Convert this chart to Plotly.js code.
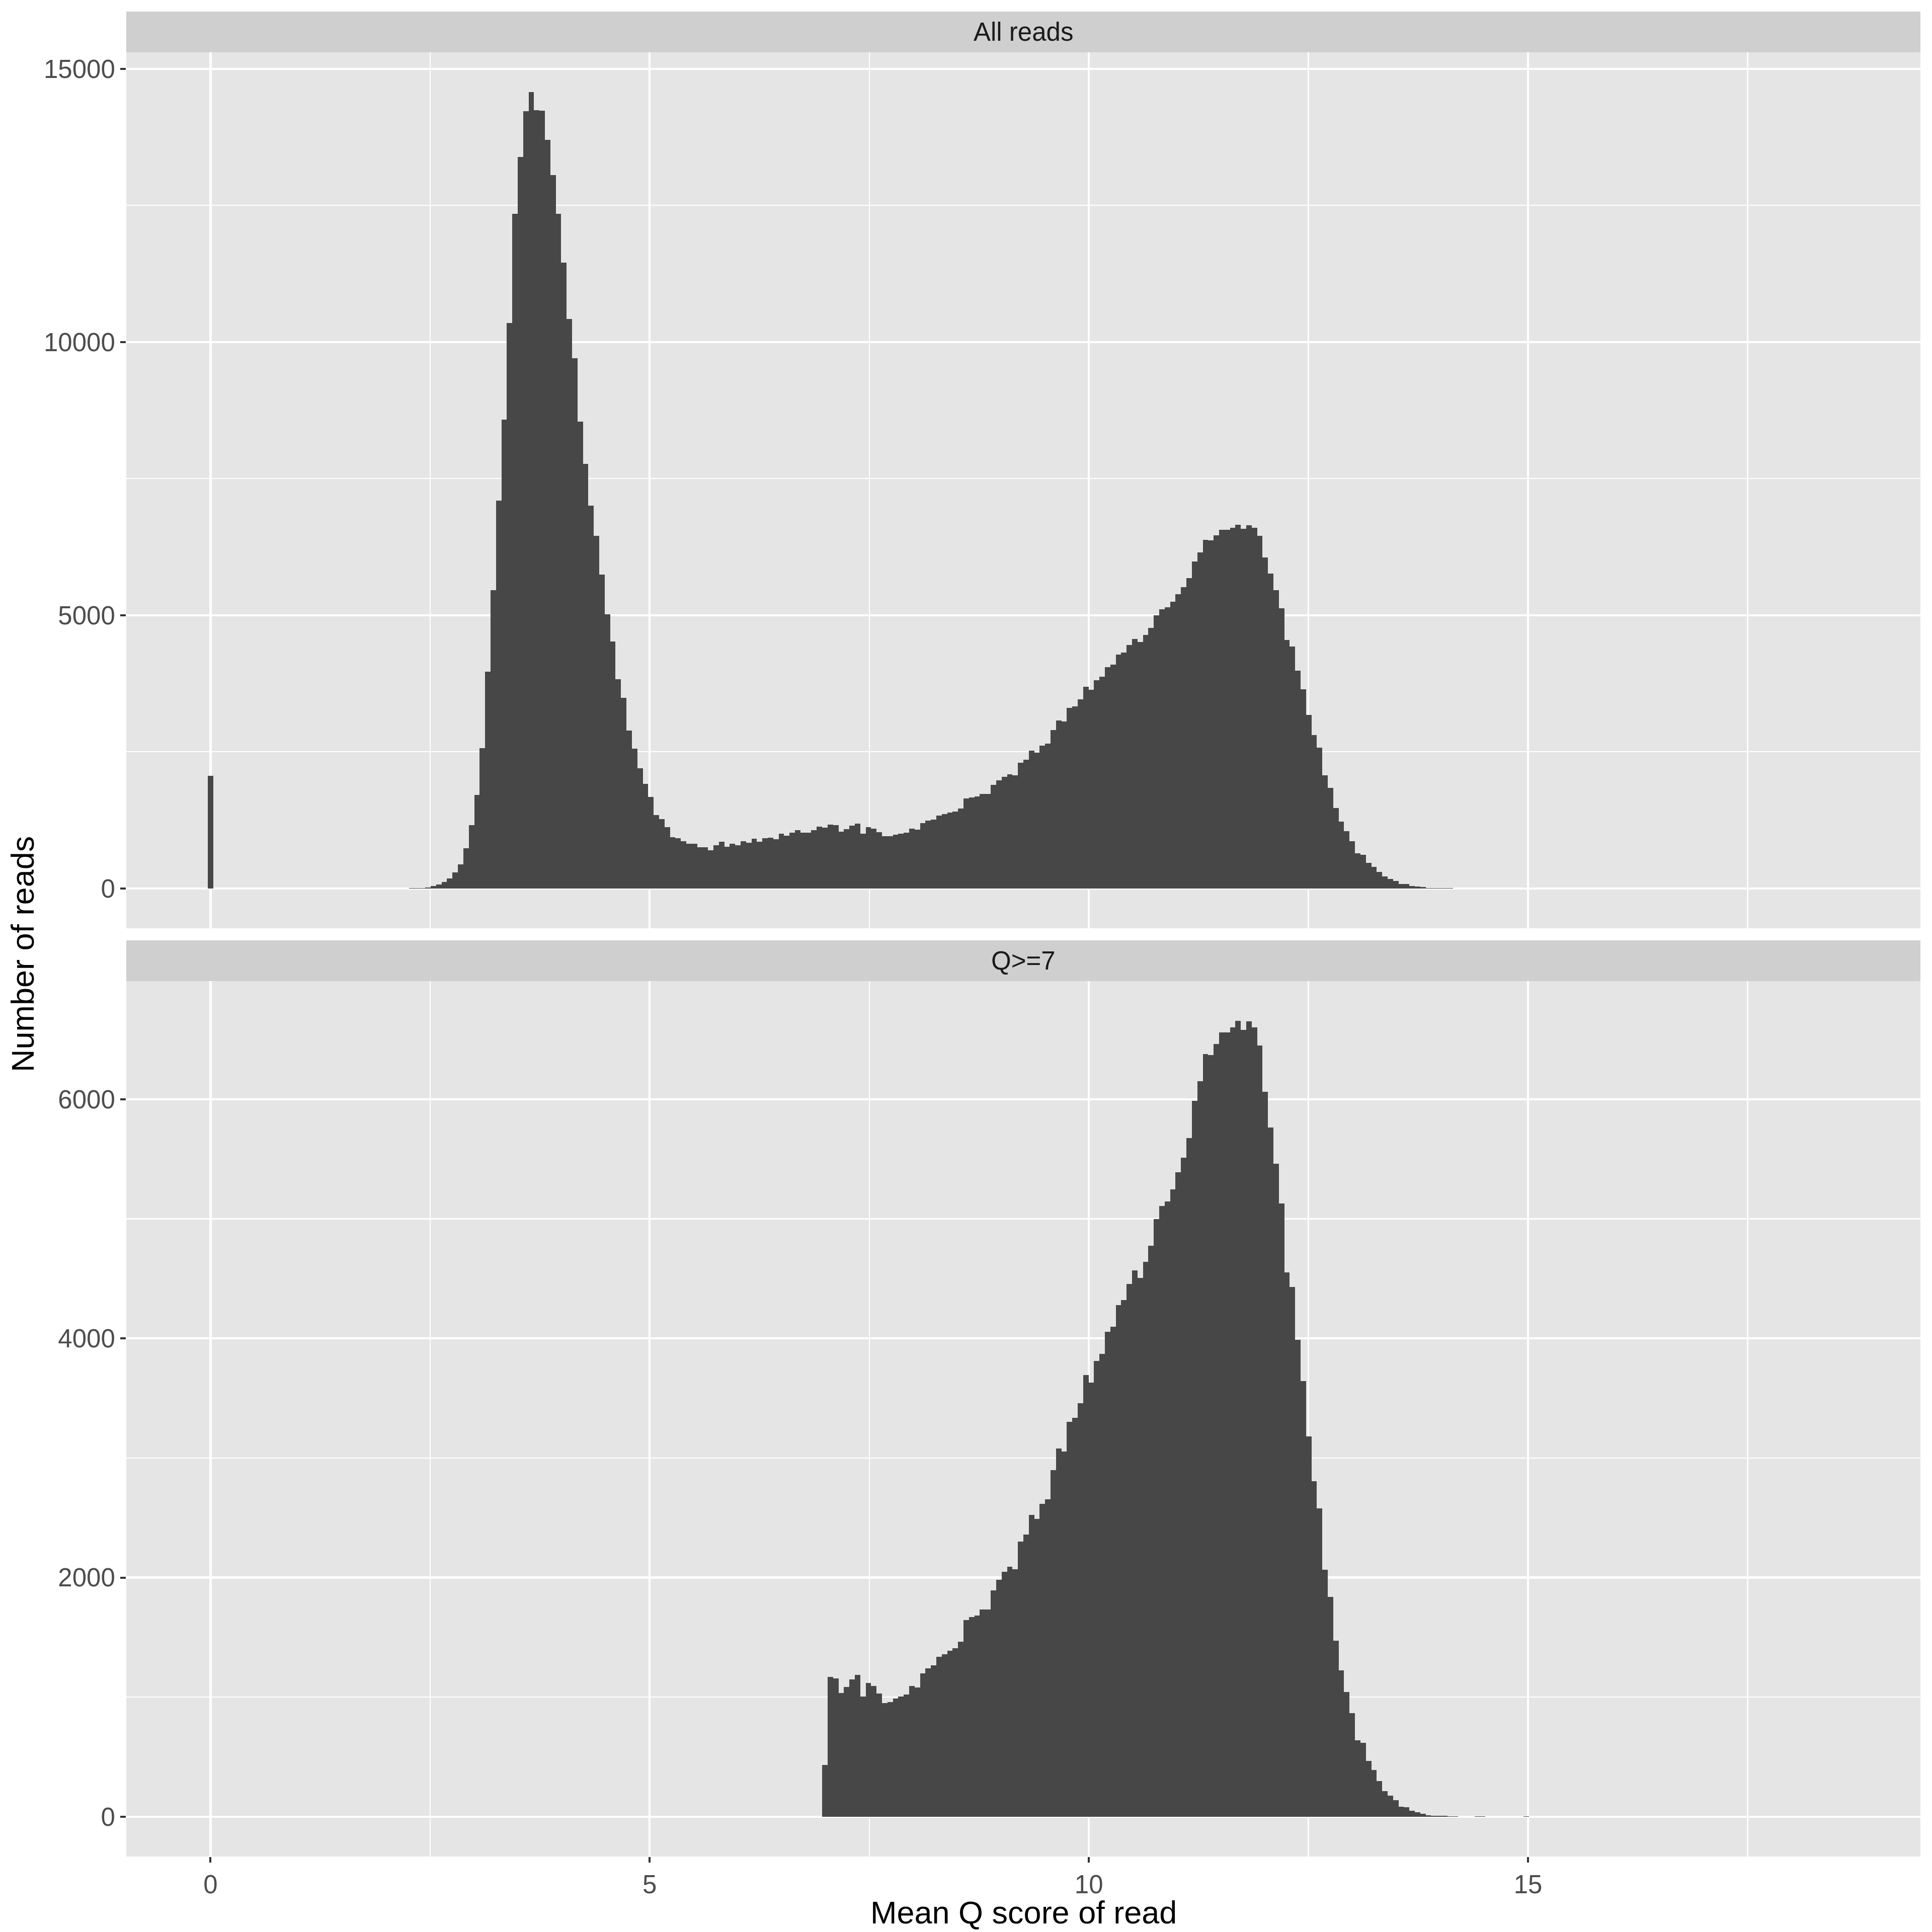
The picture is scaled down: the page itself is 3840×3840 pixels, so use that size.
<!DOCTYPE html>
<html>
<head>
<meta charset="utf-8">
<script src="https://cdn.plot.ly/plotly-3.0.1.min.js"></script>
<style>html,body{margin:0;padding:0;background:#fff;}#chart{width:3840px;height:3840px;}</style>
</head>
<body>
<div id="chart"></div>
<script>
// Histogram bin width (bins centred on k * binWidth, k = 0..299)
const binWidth = 0.0619;

// Counts per bin, all reads (k = 0..299)
const countsAll = [
  2060,0,0,0,0,0,0,0,0,0,
  0,0,0,0,0,0,0,0,0,0,
  0,0,0,0,0,0,0,0,0,0,
  0,0,0,0,0,2,3,4,9,12,
  20,40,75,115,180,290,440,735,1155,1710,
  2565,3970,5455,7100,8585,10350,12345,13385,14225,14575,
  14245,14235,13700,13060,12345,11450,10420,9700,8540,7775,
  7010,6450,5745,5020,4520,3825,3490,2890,2555,2195,
  1910,1670,1345,1270,1125,935,915,860,820,820,
  750,755,700,792,857,764,820,792,866,838,
  912,857,921,930,903,1004,967,1022,1068,1022,
  1022,1068,1133,1114,1167,1158,1036,1083,1150,1185,
  1004,1120,1095,1029,952,957,987,1004,1023,1093,
  1079,1198,1239,1264,1336,1358,1386,1408,1463,1643,
  1668,1682,1732,1732,1892,1980,2047,2091,2069,2301,
  2359,2523,2489,2617,2655,2898,3078,3056,3302,3334,
  3457,3692,3632,3811,3871,4054,4097,4280,4320,4455,
  4567,4507,4642,4773,4996,5107,5147,5246,5390,5513,
  5676,5986,6150,6380,6370,6460,6560,6560,6600,6655,
  6580,6650,6600,6450,6062,5763,5461,5127,4551,4431,
  3986,3644,3179,2805,2579,2066,1840,1474,1223,1044,
  865,640,616,465,390,298,215,175,139,84,
  78,48,38,25,10,8,8,6,4,2,
  1,1,1,2,2,1,0,0,0,0,
  0,1,2,0,0,0,0,1,0,0,
  0,0,0,0,1,0,0,0,0,0,
  0,0,0,0,0,0,0,0,0,0,
  1,1,0,0,0,0,0,0,0,0,
  0,0,0,0,0,0,0,0,0,1,
  0,0,0,0,0,0,0,0,0,1
];

// Q>=7 panel: first (partial) bin and where it starts
const q7FirstBinIndex = 113;
const q7FirstBinCount = 431;

const facetLabels = ["All reads", "Q>=7"];
const xTicks = [0, 5, 10, 15];
const topYTicks = [0, 5000, 10000, 15000];
const bottomYTicks = [0, 2000, 4000, 6000];

(function () {
  const xAll = countsAll.map((_, k) => k * binWidth);
  const xQ7 = xAll.slice(q7FirstBinIndex);
  const yQ7 = [q7FirstBinCount].concat(countsAll.slice(q7FirstBinIndex + 1));

  const W = 3840, H = 3840;
  const px = v => v / W;
  const py = v => 1 - v / H;

  const panelL = 251, panelR = 3817;
  const topP = {strip: [23, 104], panel: [104, 1845]};
  const botP = {strip: [1869, 1950], panel: [1950, 3690]};

  const barColor = '#474747';
  const FONT = 'Liberation Sans, Arial, Helvetica, sans-serif';

  const traces = [
    {type: 'bar', x: xAll, y: countsAll, xaxis: 'x2', yaxis: 'y2',
     width: binWidth, marker: {color: barColor, line: {width: 0}}, hoverinfo: 'x+y'},
    {type: 'bar', x: xQ7, y: yQ7, xaxis: 'x', yaxis: 'y',
     width: binWidth, marker: {color: barColor, line: {width: 0}}, hoverinfo: 'x+y'}
  ];

  const xRange = [-0.959, 19.468];
  const gridCommon = {showgrid: true, gridcolor: '#FFFFFF', gridwidth: 4.3, zeroline: false, showline: false};
  const minorX = {tickmode: 'array', tickvals: [2.5, 7.5, 12.5, 17.5], showgrid: true, gridcolor: '#FFFFFF', gridwidth: 2.2, ticks: ''};

  const layout = {
    width: W, height: H,
    margin: {l: 0, r: 0, t: 0, b: 0, pad: 0},
    paper_bgcolor: '#FFFFFF',
    plot_bgcolor: '#E5E5E5',
    showlegend: false,
    bargap: 0,
    font: {family: FONT, color: '#4D4D4D'},
    xaxis: Object.assign({}, gridCommon, {
      domain: [px(panelL), px(panelR)], range: xRange, anchor: 'y',
      tickmode: 'array', tickvals: xTicks, ticktext: xTicks.map(String),
      ticks: 'outside', ticklen: 11, tickwidth: 4, tickcolor: '#333333',
      tickfont: {size: 51, color: '#4D4D4D', family: FONT},
      minor: minorX
    }),
    xaxis2: Object.assign({}, gridCommon, {
      domain: [px(panelL), px(panelR)], range: xRange, anchor: 'y2', matches: 'x',
      tickmode: 'array', tickvals: xTicks, showticklabels: false, ticks: '',
      minor: minorX
    }),
    yaxis: Object.assign({}, gridCommon, {
      domain: [py(botP.panel[1]), py(botP.panel[0])], range: [-333, 6988], anchor: 'x',
      tickmode: 'array', tickvals: bottomYTicks, ticktext: bottomYTicks.map(String),
      ticks: 'outside', ticklen: 11, tickwidth: 4, tickcolor: '#333333',
      tickfont: {size: 51, color: '#4D4D4D', family: FONT},
      minor: {tickmode: 'array', tickvals: [1000, 3000, 5000], showgrid: true, gridcolor: '#FFFFFF', gridwidth: 2.2, ticks: ''}
    }),
    yaxis2: Object.assign({}, gridCommon, {
      domain: [py(topP.panel[1]), py(topP.panel[0])], range: [-729, 15303], anchor: 'x2',
      tickmode: 'array', tickvals: topYTicks, ticktext: topYTicks.map(String),
      ticks: 'outside', ticklen: 11, tickwidth: 4, tickcolor: '#333333',
      tickfont: {size: 51, color: '#4D4D4D', family: FONT},
      minor: {tickmode: 'array', tickvals: [2500, 7500, 12500], showgrid: true, gridcolor: '#FFFFFF', gridwidth: 2.2, ticks: ''}
    }),
    shapes: [
      {type: 'rect', xref: 'paper', yref: 'paper', x0: px(panelL), x1: px(panelR),
       y0: py(topP.strip[1]), y1: py(topP.strip[0]), fillcolor: '#CFCFCF', line: {width: 0}, layer: 'below'},
      {type: 'rect', xref: 'paper', yref: 'paper', x0: px(panelL), x1: px(panelR),
       y0: py(botP.strip[1]), y1: py(botP.strip[0]), fillcolor: '#CFCFCF', line: {width: 0}, layer: 'below'}
    ],
    annotations: [
      {xref: 'paper', yref: 'paper', x: px((panelL + panelR) / 2), y: py((topP.strip[0] + topP.strip[1]) / 2),
       text: facetLabels[0], showarrow: false, xanchor: 'center', yanchor: 'middle',
       font: {size: 51, color: '#1A1A1A', family: FONT}},
      {xref: 'paper', yref: 'paper', x: px((panelL + panelR) / 2), y: py((botP.strip[0] + botP.strip[1]) / 2),
       text: facetLabels[1], showarrow: false, xanchor: 'center', yanchor: 'middle',
       font: {size: 51, color: '#1A1A1A', family: FONT}},
      {xref: 'paper', yref: 'paper', x: px((panelL + panelR) / 2), y: py(3801),
       text: 'Mean Q score of read', showarrow: false, xanchor: 'center', yanchor: 'middle',
       font: {size: 63, color: '#000000', family: FONT}},
      {xref: 'paper', yref: 'paper', x: px(45), y: py((topP.panel[0] + botP.panel[1]) / 2),
       text: 'Number of reads', showarrow: false, xanchor: 'center', yanchor: 'middle', textangle: -90,
       font: {size: 63, color: '#000000', family: FONT}}
    ]
  };

  Plotly.newPlot('chart', traces, layout, {staticPlot: true, displayModeBar: false});
})();
</script>
</body>
</html>
